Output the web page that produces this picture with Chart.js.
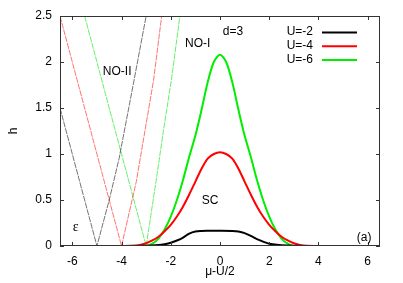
<!DOCTYPE html>
<html>
<head>
<meta charset="utf-8">
<script src="https://cdn.jsdelivr.net/npm/chart.js@4/dist/chart.umd.min.js"></script>
<style>
  html, body { margin: 0; padding: 0; background: #fff; }
</style>
</head>
<body>
<canvas id="chart" width="403" height="283"></canvas>
<script>
const X_TICKS = [-6, -4, -2, 0, 2, 4, 6];
const Y_TICKS = [0, 0.5, 1, 1.5, 2, 2.5];

// thick curves: SC gap h vs mu-U/2
const MU_U2 = [-5, -3, -2.5, -2.25, -2, -1.75, -1.5, -1.25, -1, -0.75, -0.5, 0, 0.5, 0.75, 1, 1.25, 1.5, 1.75, 2, 2.5, 3, 4, 5];
const H_U2 = [0, 0.002, 0.01, 0.02, 0.035, 0.06, 0.092, 0.135, 0.158, 0.164, 0.165, 0.165, 0.163, 0.157, 0.14, 0.11, 0.075, 0.048, 0.025, 0.008, 0.002, 0, 0];

const MU_U4 = [-4, -3.5, -3.25, -3, -2.75, -2.5, -2.25, -2, -1.75, -1.5, -1.25, -1, -0.75, -0.5, -0.25, 0, 0.25, 0.5, 0.75, 1, 1.25, 1.5, 1.75, 2, 2.25, 2.5, 2.75, 3, 3.25, 3.5, 4];
const H_U4 = [0, 0.002, 0.01, 0.03, 0.06, 0.10, 0.16, 0.23, 0.32, 0.43, 0.56, 0.70, 0.84, 0.95, 1.0, 1.02, 1.0, 0.95, 0.84, 0.70, 0.56, 0.43, 0.32, 0.23, 0.16, 0.10, 0.06, 0.03, 0.01, 0.002, 0];

const MU_U6 = [-3, -2.75, -2.5, -2.25, -2, -1.75, -1.5, -1.25, -1, -0.75, -0.5, -0.25, 0, 0.25, 0.5, 0.75, 1, 1.25, 1.5, 1.75, 2, 2.25, 2.5, 2.75, 3];
const H_U6 = [0, 0.025, 0.08, 0.18, 0.32, 0.5, 0.72, 0.97, 1.2, 1.48, 1.78, 2.0, 2.08, 2.0, 1.78, 1.48, 1.2, 0.97, 0.72, 0.5, 0.32, 0.18, 0.08, 0.025, 0];

// thin lines: normal-phase boundaries (epsilon)
const MU_E2 = [-6.5, -5, -4.5, -4.1, -3.55, -3.0];
const H_E2 = [1.5, 0, 0.5, 0.95, 1.72, 2.5];
const MU_E4 = [-6.5, -4, -3.4, -3.05, -2.7, -2.37];
const H_E4 = [2.5, 0, 0.7, 1.25, 1.8, 2.5];
const MU_E6 = [-5.5, -3, -2.6, -2.3, -1.95, -1.63];
const H_E6 = [2.5, 0, 0.7, 1.25, 1.85, 2.5];

const LEGEND = ["U=-2", "U=-4", "U=-6"];
const COLORS = ["#000000", "#ff0000", "#00ee00"];

const FONT = "Liberation Sans, Arial, sans-serif";

function pts(xs, ys) {
  return xs.map((x, i) => ({ x: x, y: ys[i] }));
}

function thick(xs, ys, color) {
  return {
    data: pts(xs, ys),
    borderColor: color,
    borderWidth: 2,
    showLine: true,
    pointRadius: 0,
    tension: 0.3,
    order: 1
  };
}

function thin(xs, ys, color) {
  return {
    data: pts(xs, ys),
    borderColor: color,
    borderWidth: 1,
    borderDash: [6, 1],
    showLine: true,
    pointRadius: 0,
    tension: 0,
    order: 5
  };
}

const decor = {
  id: "decor",
  afterDatasetsDraw(c) {
    const ctx = c.ctx;
    const a = c.chartArea;
    const xs = c.scales.x;
    const ys = c.scales.y;
    ctx.save();

    // frame and inward ticks on all sides
    ctx.strokeStyle = "#333";
    ctx.lineWidth = 1;
    ctx.strokeRect(a.left + 0.5, a.top + 0.5, a.right - a.left - 1, a.bottom - a.top - 1);
    ctx.beginPath();
    X_TICKS.forEach(v => {
      const p = Math.round(xs.getPixelForValue(v)) + 0.5;
      ctx.moveTo(p, a.bottom); ctx.lineTo(p, a.bottom - 4);
      ctx.moveTo(p, a.top); ctx.lineTo(p, a.top + 4);
    });
    Y_TICKS.forEach(v => {
      const p = Math.round(ys.getPixelForValue(v)) + 0.5;
      ctx.moveTo(a.left, p); ctx.lineTo(a.left + 4, p);
      ctx.moveTo(a.right, p); ctx.lineTo(a.right - 4, p);
    });
    ctx.stroke();

    // labels inside the plot
    ctx.fillStyle = "#000";
    ctx.textBaseline = "middle";
    ctx.textAlign = "left";
    ctx.font = "12px " + FONT;
    const put = (t, x, y) => ctx.fillText(t, xs.getPixelForValue(x), ys.getPixelForValue(y));
    put("d=3", 0.11, 2.33);
    put("NO-I", -1.42, 2.2);
    put("NO-II", -4.76, 1.89);
    put("SC", -0.74, 0.49);
    put("(a)", 5.56, 0.087);
    ctx.font = "14px Liberation Serif, serif";
    put("\u03b5", -5.98, 0.2);

    // legend
    ctx.font = "12px " + FONT;
    ctx.textAlign = "right";
    LEGEND.forEach((t, i) => {
      const y = a.top + 16 + i * 13.7;
      ctx.fillText(t, a.right - 67, y);
      ctx.strokeStyle = COLORS[i];
      ctx.lineWidth = 2;
      ctx.beginPath();
      ctx.moveTo(a.right - 58, y + 0.5);
      ctx.lineTo(a.right - 23, y + 0.5);
      ctx.stroke();
    });

    // axis titles
    ctx.textAlign = "center";
    ctx.fillText("\u03bc-U/2", (a.left + a.right) / 2, 272);
    ctx.translate(14, (a.top + a.bottom) / 2);
    ctx.rotate(-Math.PI / 2);
    ctx.fillText("h", 0, 0);
    ctx.restore();
  }
};

function renderChart() {
  new Chart(document.getElementById("chart"), {
    type: "scatter",
    data: {
      datasets: [
        thick(MU_U2, H_U2, COLORS[0]),
        thick(MU_U4, H_U4, COLORS[1]),
        thick(MU_U6, H_U6, COLORS[2]),
        thin(MU_E2, H_E2, "rgba(0,0,0,0.55)"),
        thin(MU_E4, H_E4, "rgba(255,0,0,0.55)"),
        thin(MU_E6, H_E6, "rgba(0,230,0,0.6)")
      ]
    },
    options: {
      responsive: false,
      animation: false,
      layout: { padding: { left: 0, top: 16, right: 23, bottom: 0 } },
      plugins: {
        legend: { display: false },
        tooltip: { enabled: false }
      },
      scales: {
        x: {
          type: "linear",
          min: -6.5,
          max: 6.5,
          afterBuildTicks: s => { s.ticks = X_TICKS.map(v => ({ value: v })); },
          afterFit: s => { s.height = 37; },
          grid: { display: false, drawTicks: false },
          border: { display: false },
          ticks: { color: "#000", font: { family: FONT, size: 12 }, padding: 8, maxRotation: 0, callback: v => String(v) }
        },
        y: {
          type: "linear",
          min: 0,
          max: 2.5,
          afterBuildTicks: s => { s.ticks = Y_TICKS.map(v => ({ value: v })); },
          afterFit: s => { s.width = 60; },
          grid: { display: false, drawTicks: false },
          border: { display: false },
          ticks: { color: "#000", font: { family: FONT, size: 12 }, padding: 8, callback: v => String(v) }
        }
      }
    },
    plugins: [decor]
  });
}

renderChart();
</script>
</body>
</html>
